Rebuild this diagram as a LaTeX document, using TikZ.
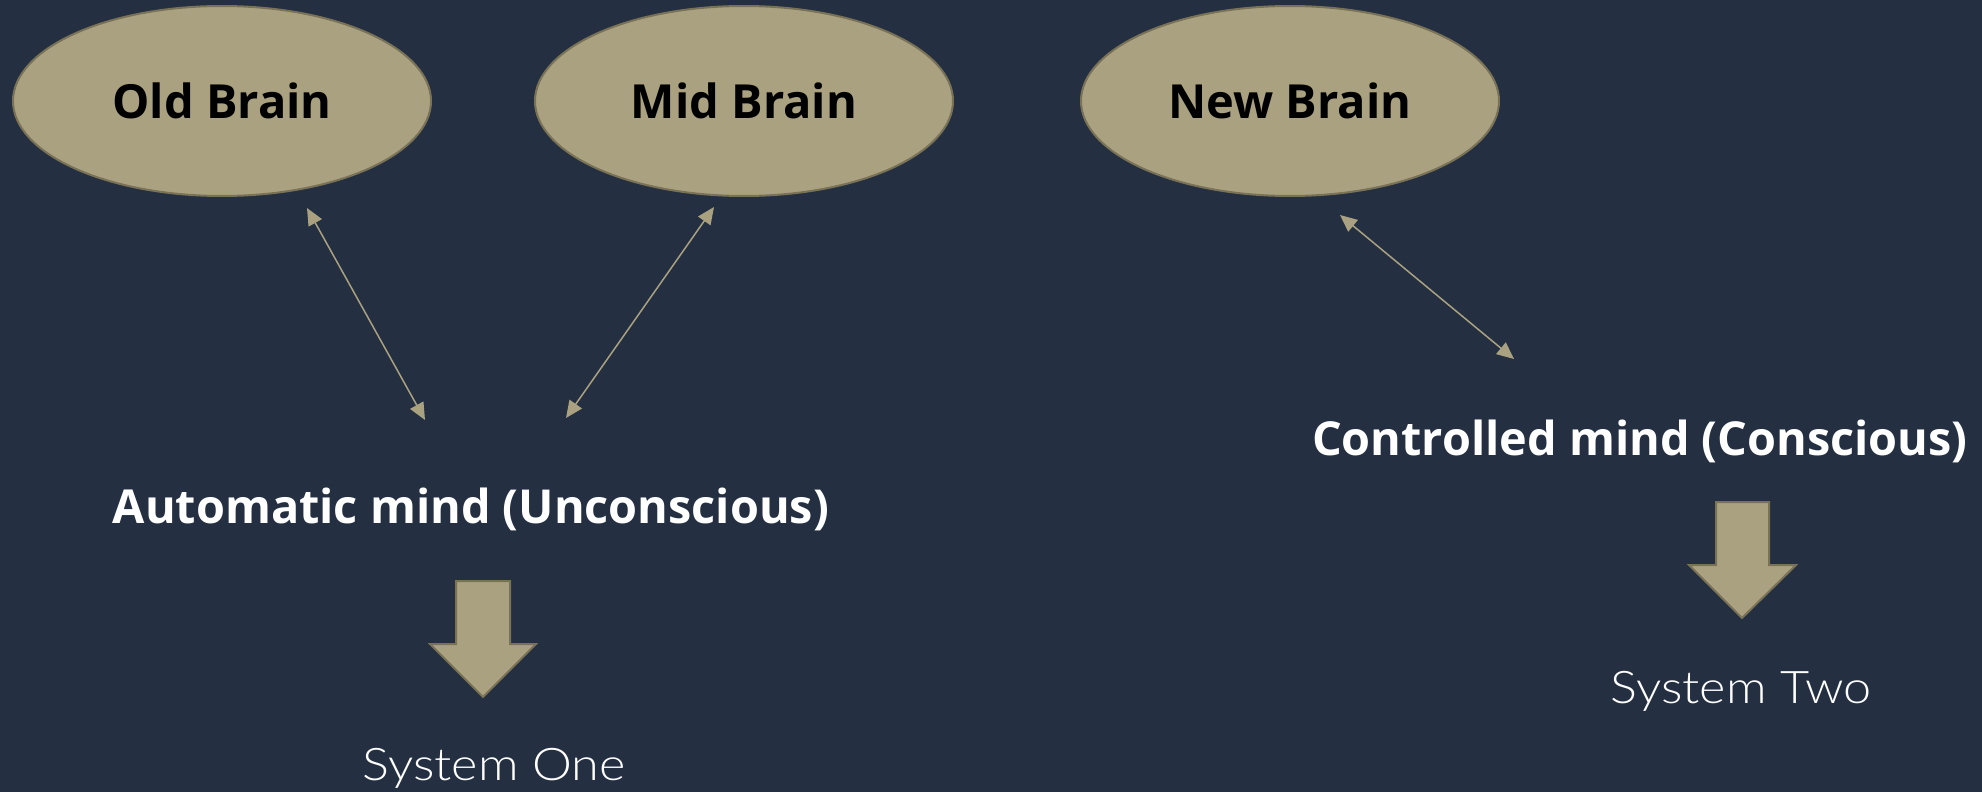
\documentclass[tikz,border=0pt]{standalone}
\usepackage{fontspec}
\setmainfont{Lato}
\newfontfamily\boldfont{Open Sans Bold}
\newfontfamily\lightfont[FakeStretch=1.12]{Lato Light}
\usetikzlibrary{shapes.geometric,arrows.meta}
\definecolor{bgc}{RGB}{36,48,65}
\definecolor{tan}{RGB}{169,161,128}
\definecolor{tanedge}{RGB}{122,114,86}
\tikzset{
  brain/.style={ellipse, draw=tanedge, line width=2pt, fill=tan, minimum width=418pt, minimum height=190pt, inner sep=0pt, font=\boldfont\fontsize{47}{50}\selectfont, text=black},
  thin/.style={draw=tan, line width=1.5pt, {Triangle[length=17pt,width=15pt]}-{Triangle[length=17pt,width=15pt]}},
  mindlabel/.style={anchor=base, text=white, inner sep=0pt, font=\boldfont\fontsize{46.8}{50}\selectfont},
  syslabel/.style={anchor=base, text=white, inner sep=0pt, font=\lightfont\fontsize{45}{50}\selectfont},
  bigarrow/.style={fill=tan, draw=tanedge, line width=2pt, line join=miter}
}
\begin{document}
\begin{tikzpicture}[x=1pt,y=-1pt]
\useasboundingbox (0,0) rectangle (1982,792);
\fill[bgc] (0,0) rectangle (1982,792);
\node[brain] (oldb) at (222,101) {Old Brain};
\node[brain] (midb) at (744,101) {Mid Brain};
\node[brain] (newb) at (1290,101) {New Brain};
\node[mindlabel] (auto) at (471,523) {Automatic mind (Unconscious)};
\node[mindlabel] (ctrl) at (1640,455) {Controlled mind (Conscious)};
\node[syslabel] (sys1) at (494,780) {System One};
\node[syslabel] (sys2) at (1741,703) {System Two};
\coordinate (o1) at (307,208);
\coordinate (o2) at (425,420);
\coordinate (m1) at (714,207);
\coordinate (m2) at (566,418);
\coordinate (n1) at (1340,215);
\coordinate (n2) at (1514,359);
\draw[thin] (o1) -- (o2);
\draw[thin] (m1) -- (m2);
\draw[thin] (n1) -- (n2);
\draw[bigarrow] (456,581) -- (510,581) -- (510,644) -- (536,644) -- (483,697) -- (430,644) -- (456,644) -- cycle;
\draw[bigarrow] (1716,502) -- (1769,502) -- (1769,565) -- (1796,565) -- (1742,618) -- (1689,565) -- (1716,565) -- cycle;
\end{tikzpicture}
\end{document}
